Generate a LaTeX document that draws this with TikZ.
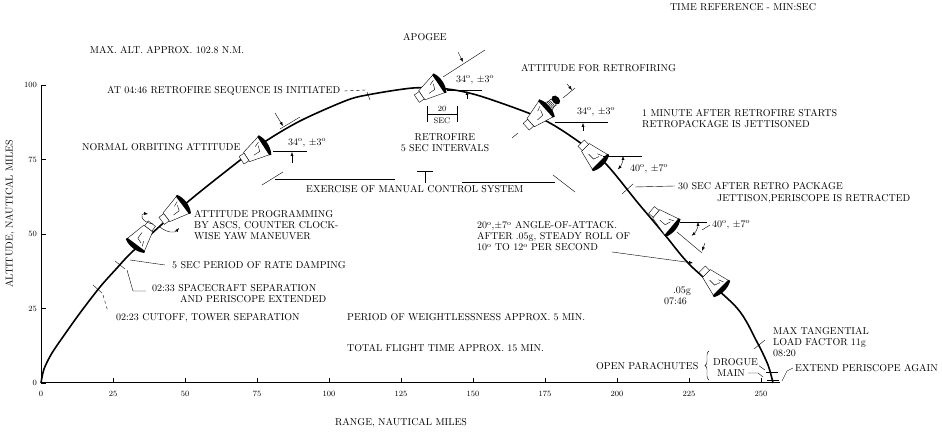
\documentclass[tikz,border=0pt]{standalone}
\usetikzlibrary{arrows.meta,decorations.pathreplacing}

\newcommand{\capsulebody}{%
	\draw[fill=white] (0,-11) -- (-22,-5.5) -- (-22,5.5) -- (0,11) -- cycle;
	\draw[fill=white] (-22,-4.5) rectangle (-28,4.5);
	\fill (0,-11.5) .. controls (4,-5) and (4,5) .. (0,11.5) -- (-2,11) -- (-2,-11) -- cycle;
	\draw (-15,-2.5) -- (-8,-2.5) -- (-6,3) (-9,4) -- (-4,6);
}
\tikzset{
	lbl/.style={inner sep=0pt, font=\fontsize{10}{11}\selectfont, align=left},
	num/.style={inner sep=0pt, font=\fontsize{8}{9}\selectfont},
	arr/.style={-{Latex[length=4pt,width=3pt]}},
	twoarr/.style={{Latex[length=4pt,width=3pt]}-{Latex[length=4pt,width=3pt]}},
	capsule/.pic={\capsulebody},
	retrocapsule/.pic={
		\capsulebody
		\draw (1,-6) -- (5,-4) (1,6) -- (5,4);
		\draw[fill=white] (4,-4) rectangle (9,4);
		\draw (5.5,-4) -- (5.5,4) (7,-4) -- (7,4);
		\fill (12,0) ellipse (3.5 and 5);
	}
}

\begin{document}
\begin{tikzpicture}[x=1pt,y=1pt]
	\useasboundingbox (0,0) rectangle (942,435);

	\draw [line width=1pt] (41,350) -- (41,52) -- (780,52);
	\foreach \n [count=\i from 0] in {0,25,...,250} {
		\draw (41+72*\i,52) -- ++(0,5);
		\node [num] (x\n) at (41+72*\i,41) {\n};
	}
	\foreach \n [count=\i from 0] in {0,25,...,100} {
		\draw (41,52+74.5*\i) -- ++(5,0);
		\node [num, anchor=east] (y\n) at (37,52+74.5*\i) {\n};
	}
	\node [lbl] (range) at (401,12) {RANGE, NAUTICAL MILES};
	\node [lbl, rotate=90] (alt) at (10,221) {ALTITUDE, NAUTICAL MILES};

	\draw [line width=1.6pt] plot [smooth, tension=0.5] coordinates {(41,52) (44,66) (52,82) (65,101) (80,122) (100,148) (117,167) (130,181) (160,209) (190,235) (225,263) (263,292) (300,314) (345,334) (367,340) (413,347) (447,346) (480,339) (538,318) (572,298) (605,272) (638,232) (665,200) (690,170) (737,127) (757,93) (768,70) (773,52)};

	\pic [rotate=233] at (135,189) {capsule};
	\pic [rotate=37] at (184,231) {capsule};
	\pic [rotate=33] at (265,290) {capsule};
	\pic [rotate=34] at (440,352) {capsule};
	\pic [rotate=42] at (547,327) {retrocapsule};
	\pic [rotate=-45] at (601,272) {capsule};
	\pic [rotate=-40] at (673,207) {capsule};
	\pic [rotate=-45] at (722,146) {capsule};

	\node [lbl] (timeref) at (743,428) {TIME REFERENCE - MIN:SEC};
	\node [lbl] (maxalt) at (167,385) {MAX. ALT. APPROX. 102.8 N.M.};
	\node [lbl] (apogee) at (425,398) {APOGEE};
	\node [lbl] (weight) at (347,118) [anchor=west] {PERIOD OF WEIGHTLESSNESS APPROX. 5 MIN.};
	\node [lbl] (total) at (347,87) [anchor=west] {TOTAL FLIGHT TIME APPROX. 15 MIN.};

	% launch side
	\draw (93,150) -- (102,142);
	\draw (115,174) -- (125,166);
	\node [lbl, anchor=west] (cutoff) at (116,117) {02:23 CUTOFF, TOWER SEPARATION};
	\draw [dashed] (103,140) -- (108,123);
	\node [lbl, anchor=west] (sepa) at (152,147) {02:33 SPACECRAFT SEPARATION};
	\node [lbl, anchor=west] (sepb) at (180,136) {AND PERISCOPE EXTENDED};
	\draw (127,165) -- (133,144) -- ([xshift=-6pt]sepa.west |- 0,144);
	\node [lbl, anchor=west] (damp) at (172,170) {5 SEC PERIOD OF RATE DAMPING};
	\draw (130,175) -- ([xshift=-7pt]damp.west);
	\node [lbl, anchor=west] (program) at (194,210) {ATTITUDE PROGRAMMING\\BY ASCS, COUNTER CLOCK-\\WISE YAW MANEUVER};
	\draw [arr] (153,211) .. controls (140,213) and (140,222) .. (148,221);
	\draw [arr] (160,208) .. controls (167,202) and (175,202) .. (179,207);

	% orbit
	\node [lbl, anchor=west] (normal) at (82,288) {NORMAL ORBITING ATTITUDE};
	\draw (280,306) -- (300,318);
	\draw [arr] (275,322) -- (283,309);
	\node [lbl, anchor=west] (angA) at (288,292) {34\textsuperscript{o}, $\pm$3\textsuperscript{o}};
	\draw (273,284) -- (307,284);
	\draw [arr] (292,272) -- (292,283);

	\draw (262,250) -- (283,263);
	\draw (275,256) -- (395,256);
	\draw (417,264) -- (433,264) (425,264) -- (425,252);
	\draw (462,253) -- (555,253);
	\draw (553,260) -- (575,243);
	\node [lbl, anchor=west] (manual) at (306,246) {EXERCISE OF MANUAL CONTROL SYSTEM};

	\node [lbl, anchor=west] (retroseq) at (107,344) {AT 04:46 RETROFIRE SEQUENCE IS INITIATED};
	\draw [dashed] ([xshift=4pt]retroseq.east) -- (366,345);
	\draw (367,343) -- (370,335);

	\draw (443,358) -- (485,385);
	\draw [arr] (458,383) -- (463,373);
	\node [lbl, anchor=west] (angB) at (456,355) {34\textsuperscript{o}, $\pm$3\textsuperscript{o}};
	\draw (447,345) -- (482,345);
	\draw [arr] (467,336) -- (467,344);
	\draw (427,313) -- (427,329) (457,313) -- (457,329) (427,321) -- (457,321);
	\node [num] (twenty) at (442,326) {20};
	\node [num] (sec) at (442,314) {SEC};
	\node [lbl, align=center] (retrofire) at (445,292.5) {RETROFIRE\\5 SEC INTERVALS};

	% retrofire and reentry
	\node [lbl, anchor=west] (retroatt) at (521,367) {ATTITUDE FOR RETROFIRING};
	\draw (563,337) -- (575,347);
	\draw [arr] (567,351) -- (572,345);
	\draw (512,297) -- (518,302);
	\node [lbl, anchor=west] (angC) at (577,323) {34\textsuperscript{o}, $\pm$3\textsuperscript{o}};
	\draw (555,313) -- (608,313);
	\draw [arr] (583,304) -- (583,312);
	\node [lbl, anchor=west] (jett) at (642,316.5) {1 MINUTE AFTER RETROFIRE STARTS\\RETROPACKAGE IS JETTISONED};

	\draw (603,279) -- (642,279);
	\draw [twoarr] (623,279) arc (0:-42:20);
	\node [lbl, anchor=west] (angD) at (630,266) {40\textsuperscript{o}, $\pm$7\textsuperscript{o}};
	\draw (622,241) -- (633,251);
	\node [lbl, anchor=west] (retracta) at (678,249) {30 SEC AFTER RETRO PACKAGE};
	\node [lbl, anchor=west] (retractb) at (717,236) {JETTISON,PERISCOPE IS RETRACTED};
	\draw (635,248) -- ([xshift=-3pt]retracta.west);

	\node [lbl, anchor=west] (aoa) at (477,198.5) {20\textsuperscript{o},$\pm$7\textsuperscript{o} ANGLE-OF-ATTACK.\\AFTER .05g, STEADY ROLL OF\\10\textsuperscript{o} TO 12\textsuperscript{o} PER SECOND};
	\draw [arr] (612,183) -- (693,172);
	\draw (680,213) -- (707,213);
	\draw [twoarr] (698,213) arc (0:-50:18);
	\draw (677,203) -- (702,182);
	\draw [arr] (705,192) -- (702,184);
	\node [lbl, anchor=west] (angE) at (712,210) {40\textsuperscript{o}, $\pm$7\textsuperscript{o}};
	\draw (702,205) -- ([xshift=-2pt]angE.west);

	\node [lbl, anchor=west] (gpoint) at (673,144) {.05g};
	\node [lbl, anchor=west] (gtime) at (664,134) {07:46};

	\draw (754,86) -- (765,95);
	\node [lbl, anchor=west] (load) at (773,93) {MAX TANGENTIAL\\LOAD FACTOR 11g\\08:20};
	\node [lbl, anchor=west] (chutes) at (596,69) {OPEN PARACHUTES};
	\draw [decorate, decoration={brace, amplitude=4pt}] (709,55) -- (709,84);
	\node [lbl, anchor=west] (drogue) at (713,73) {DROGUE};
	\node [lbl, anchor=west] (main) at (717,62) {MAIN};
	\draw ([xshift=1pt]drogue.south east) -- (765,65);
	\draw ([xshift=3pt]main.east) -- (758,62) -- (763,58);
	\draw (766,63) -- (778,63) (767,55) -- (779,55);
	\node [lbl, anchor=west] (extend) at (795,67) {EXTEND PERISCOPE AGAIN};
	\draw (782,54) -- (787,64) -- ([xshift=-2pt]extend.west);
\end{tikzpicture}
\end{document}
